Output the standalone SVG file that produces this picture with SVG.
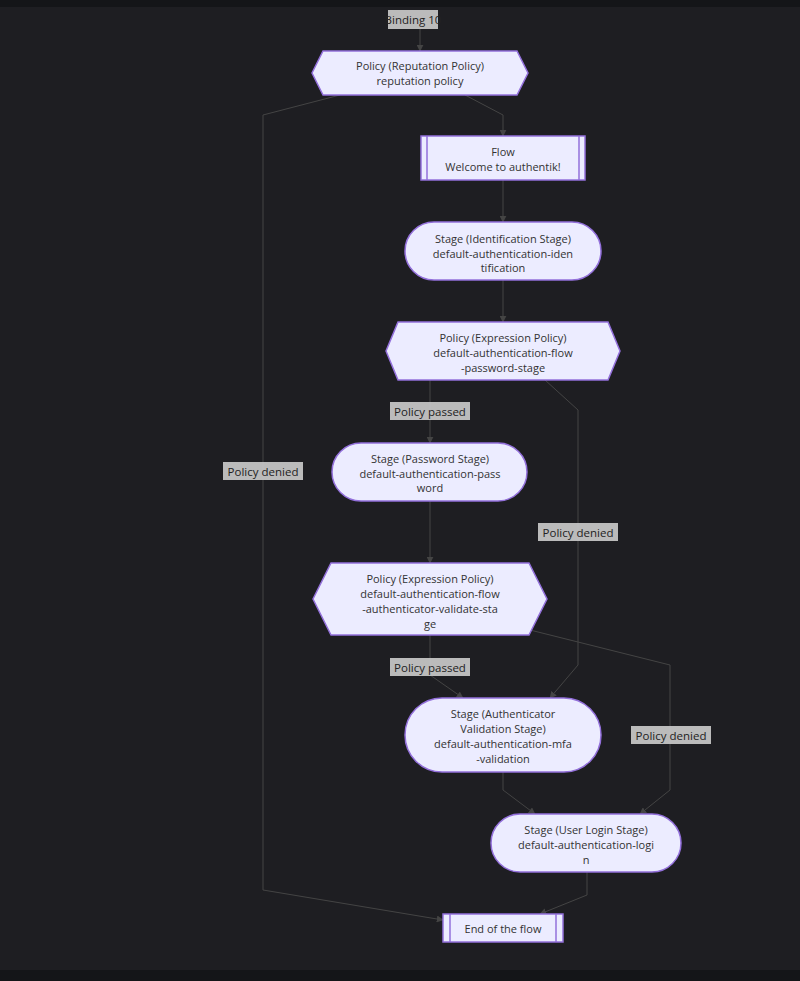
<svg xmlns="http://www.w3.org/2000/svg" width="800" height="981" viewBox="0 0 800 981">
<style>
.n{fill:#ececff;stroke:#9370db;stroke-width:1.5}
.t{font-family:"Open Sans","DejaVu Sans",sans-serif;font-size:11px;fill:#333;text-anchor:middle}
.e{fill:none;stroke:#444;stroke-width:1}
.lb{fill:#ccc;opacity:0.9}
.lt{font-family:"Open Sans","DejaVu Sans",sans-serif;font-size:11.5px;fill:#222;text-anchor:middle}
</style>
<defs><marker id="a" viewBox="0 0 10 10" refX="9" refY="5" markerWidth="7" markerHeight="7" orient="auto"><path d="M0,0L10,5L0,10z" fill="#444"/></marker></defs>
<rect width="800" height="981" fill="#1e1e22"/>
<rect width="800" height="7" fill="#141518"/>
<rect y="970" width="800" height="11" fill="#141518"/>
<g id="edges">
<path class="e" d="M420,29V51" marker-end="url(#a)"/>
<path class="e" d="M465,95L503,115V136" marker-end="url(#a)"/>
<path class="e" d="M340,95L263,115V890L443,920" marker-end="url(#a)"/>
<path class="e" d="M503,180V222" marker-end="url(#a)"/>
<path class="e" d="M503,280V322" marker-end="url(#a)"/>
<path class="e" d="M430,380V443" marker-end="url(#a)"/>
<path class="e" d="M545,380L578,410V665L550,698" marker-end="url(#a)"/>
<path class="e" d="M430,501V563" marker-end="url(#a)"/>
<path class="e" d="M430,635V675L463,698" marker-end="url(#a)"/>
<path class="e" d="M530,630L670,665V790L640,814" marker-end="url(#a)"/>
<path class="e" d="M503,772V790L535,814" marker-end="url(#a)"/>
<path class="e" d="M587,872V895L540,914" marker-end="url(#a)"/>
<rect class="lb" x="388" y="10" width="50" height="19"/><text class="lt" x="413" y="24">Binding 10</text>
<rect class="lb" x="390" y="402" width="80" height="18"/><text class="lt" x="430" y="416">Policy passed</text>
<rect class="lb" x="223" y="462" width="80" height="18"/><text class="lt" x="263" y="476">Policy denied</text>
<rect class="lb" x="538" y="523" width="80" height="18"/><text class="lt" x="578" y="537">Policy denied</text>
<rect class="lb" x="390" y="658" width="80" height="18"/><text class="lt" x="430" y="672">Policy passed</text>
<rect class="lb" x="631" y="726" width="80" height="18"/><text class="lt" x="671" y="740">Policy denied</text>
</g>
<g id="rep"><polygon class="n" points="323,51 517,51 528,73 517,95 323,95 312,73"/><text class="t" x="420" y="70">Policy (Reputation Policy)</text><text class="t" x="420" y="85">reputation policy</text></g>
<g id="flow"><rect class="n" x="421" y="136" width="164" height="44"/><path class="n" d="M427,136V180M579,136V180"/><text class="t" x="503" y="156">Flow</text><text class="t" x="503" y="171">Welcome to authentik!</text></g>
<g id="ident"><rect class="n" x="405" y="222" width="196" height="58" rx="29"/><text class="t" x="503" y="243">Stage (Identification Stage)</text><text class="t" x="503" y="258">default-authentication-iden</text><text class="t" x="503" y="272">tification</text></g>
<g id="expr1"><polygon class="n" points="398,322 608,322 620,351 608,380 398,380 386,351"/><text class="t" x="503" y="342">Policy (Expression Policy)</text><text class="t" x="503" y="357">default-authentication-flow</text><text class="t" x="503" y="372">-password-stage</text></g>
<g id="pass"><rect class="n" x="332" y="443" width="195" height="58" rx="29"/><text class="t" x="430" y="463">Stage (Password Stage)</text><text class="t" x="430" y="478">default-authentication-pass</text><text class="t" x="430" y="492">word</text></g>
<g id="expr2"><polygon class="n" points="331,563 529,563 547,599 529,635 331,635 313,599"/><text class="t" x="430" y="583">Policy (Expression Policy)</text><text class="t" x="430" y="598">default-authentication-flow</text><text class="t" x="430" y="613">-authenticator-validate-sta</text><text class="t" x="430" y="628">ge</text></g>
<g id="mfa"><rect class="n" x="405" y="698" width="196" height="74" rx="37"/><text class="t" x="503" y="718">Stage (Authenticator</text><text class="t" x="503" y="733">Validation Stage)</text><text class="t" x="503" y="748">default-authentication-mfa</text><text class="t" x="503" y="763">-validation</text></g>
<g id="login"><rect class="n" x="491" y="814" width="190" height="58" rx="29"/><text class="t" x="586" y="834">Stage (User Login Stage)</text><text class="t" x="586" y="849">default-authentication-logi</text><text class="t" x="586" y="864">n</text></g>
<g id="end"><rect class="n" x="443" y="914" width="120" height="28"/><path class="n" d="M450,914V942M556,914V942"/><text class="t" x="503" y="933">End of the flow</text></g>
</svg>
